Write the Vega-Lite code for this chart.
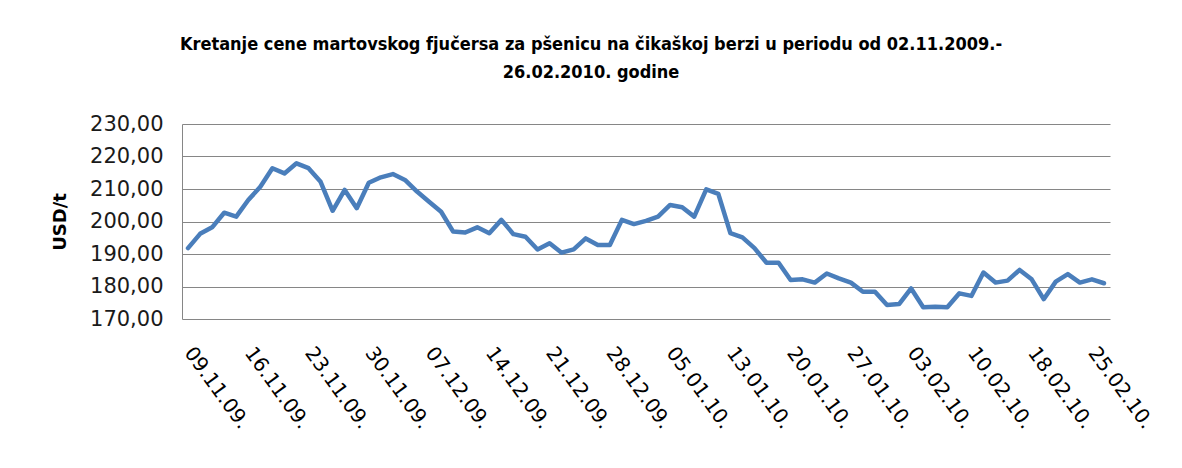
{
  "$schema": "https://vega.github.io/schema/vega-lite/v6.json",
  "width": 928,
  "height": 195,
  "autosize": "none",
  "padding": {"left": 182, "top": 124, "right": 72, "bottom": 149},
  "background": "white",
  "title": {
    "text": ["Kretanje cene martovskog fjučersa za pšenicu na čikaškoj berzi u periodu od 02.11.2009.-", "26.02.2010. godine"],
    "anchor": "middle",
    "dx": -55,
    "offset": 31,
    "font": "DejaVu Sans Condensed",
    "fontSize": 18,
    "fontWeight": "bold",
    "lineHeight": 28,
    "color": "#000000"
  },
  "config": {
    "view": {"stroke": null},
    "axis": {"gridColor": "#868686", "gridWidth": 1, "ticks": false}
  },
  "data": {
    "values": [
      {"date": "09.11.09.", "price": 191.8},
      {"date": "10.11.09.", "price": 196.2},
      {"date": "11.11.09.", "price": 198.2},
      {"date": "12.11.09.", "price": 202.7},
      {"date": "13.11.09.", "price": 201.5},
      {"date": "16.11.09.", "price": 206.6},
      {"date": "17.11.09.", "price": 210.7},
      {"date": "18.11.09.", "price": 216.4},
      {"date": "19.11.09.", "price": 214.8},
      {"date": "20.11.09.", "price": 217.9},
      {"date": "23.11.09.", "price": 216.4},
      {"date": "24.11.09.", "price": 212.2},
      {"date": "25.11.09.", "price": 203.3},
      {"date": "26.11.09.", "price": 209.7},
      {"date": "27.11.09.", "price": 204.1},
      {"date": "30.11.09.", "price": 211.9},
      {"date": "01.12.09.", "price": 213.6},
      {"date": "02.12.09.", "price": 214.6},
      {"date": "03.12.09.", "price": 212.8},
      {"date": "04.12.09.", "price": 209.2},
      {"date": "07.12.09.", "price": 206.1},
      {"date": "08.12.09.", "price": 203.0},
      {"date": "09.12.09.", "price": 196.9},
      {"date": "10.12.09.", "price": 196.6},
      {"date": "11.12.09.", "price": 198.2},
      {"date": "14.12.09.", "price": 196.4},
      {"date": "15.12.09.", "price": 200.5},
      {"date": "16.12.09.", "price": 196.1},
      {"date": "17.12.09.", "price": 195.3},
      {"date": "18.12.09.", "price": 191.4},
      {"date": "21.12.09.", "price": 193.3},
      {"date": "22.12.09.", "price": 190.4},
      {"date": "23.12.09.", "price": 191.4},
      {"date": "24.12.09.", "price": 194.8},
      {"date": "25.12.09.", "price": 192.8},
      {"date": "28.12.09.", "price": 192.8},
      {"date": "29.12.09.", "price": 200.5},
      {"date": "30.12.09.", "price": 199.2},
      {"date": "31.12.09.", "price": 200.2},
      {"date": "04.01.10.", "price": 201.5},
      {"date": "05.01.10.", "price": 205.1},
      {"date": "06.01.10.", "price": 204.4},
      {"date": "07.01.10.", "price": 201.5},
      {"date": "08.01.10.", "price": 209.9},
      {"date": "11.01.10.", "price": 208.5},
      {"date": "13.01.10.", "price": 196.4},
      {"date": "14.01.10.", "price": 195.1},
      {"date": "15.01.10.", "price": 191.8},
      {"date": "18.01.10.", "price": 187.3},
      {"date": "19.01.10.", "price": 187.3},
      {"date": "20.01.10.", "price": 182.0},
      {"date": "21.01.10.", "price": 182.2},
      {"date": "22.01.10.", "price": 181.2},
      {"date": "25.01.10.", "price": 184.0},
      {"date": "26.01.10.", "price": 182.5},
      {"date": "27.01.10.", "price": 181.2},
      {"date": "28.01.10.", "price": 178.4},
      {"date": "29.01.10.", "price": 178.4},
      {"date": "01.02.10.", "price": 174.3},
      {"date": "02.02.10.", "price": 174.6},
      {"date": "03.02.10.", "price": 179.4},
      {"date": "04.02.10.", "price": 173.6},
      {"date": "05.02.10.", "price": 173.8},
      {"date": "08.02.10.", "price": 173.6},
      {"date": "09.02.10.", "price": 177.9},
      {"date": "10.02.10.", "price": 177.1},
      {"date": "11.02.10.", "price": 184.3},
      {"date": "12.02.10.", "price": 181.2},
      {"date": "16.02.10.", "price": 181.8},
      {"date": "17.02.10.", "price": 185.1},
      {"date": "18.02.10.", "price": 182.2},
      {"date": "19.02.10.", "price": 176.1},
      {"date": "22.02.10.", "price": 181.5},
      {"date": "23.02.10.", "price": 183.8},
      {"date": "24.02.10.", "price": 181.2},
      {"date": "25.02.10.", "price": 182.2},
      {"date": "26.02.10.", "price": 181.0}
    ]
  },
  "mark": {"type": "line", "color": "#4a7ebb", "strokeWidth": 4.5, "strokeJoin": "round", "strokeCap": "round"},
  "encoding": {
    "x": {
      "field": "date",
      "type": "ordinal",
      "sort": null,
      "scale": {"type": "point", "padding": 0.5},
      "axis": {
        "title": null,
        "values": ["09.11.09.", "16.11.09.", "23.11.09.", "30.11.09.", "07.12.09.", "14.12.09.", "21.12.09.", "28.12.09.", "05.01.10.", "13.01.10.", "20.01.10.", "27.01.10.", "03.02.10.", "10.02.10.", "18.02.10.", "25.02.10."],
        "labelAngle": 54,
        "labelAlign": "left",
        "labelBaseline": "middle",
        "labelFont": "DejaVu Sans",
        "labelFontSize": 20,
        "labelColor": "#000000",
        "labelPadding": 30,
        "labelOverlap": false,
        "domain": false,
        "grid": false
      }
    },
    "y": {
      "field": "price",
      "type": "quantitative",
      "scale": {"domain": [170, 230], "nice": false, "zero": false},
      "axis": {
        "title": "USD/t",
        "titleFont": "DejaVu Sans",
        "titleFontSize": 18,
        "titleFontWeight": "bold",
        "titleColor": "#000000",
        "titlePadding": 20,
        "values": [170, 180, 190, 200, 210, 220, 230],
        "labelExpr": "replace(format(datum.value, '.2f'), '.', ',')",
        "labelFont": "DejaVu Sans",
        "labelFontSize": 21,
        "labelColor": "#1a1a1a",
        "labelPadding": 19,
        "domain": true,
        "domainColor": "#868686",
        "grid": true
      }
    }
  }
}
